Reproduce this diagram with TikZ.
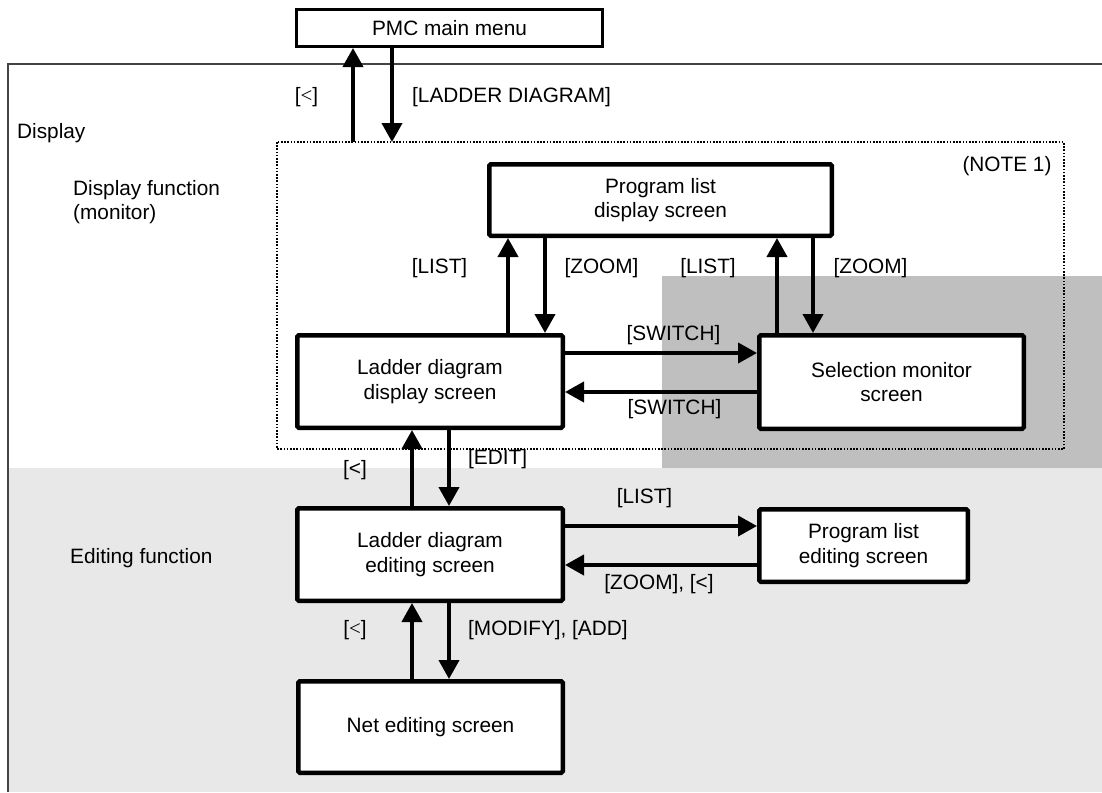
\documentclass[tikz,border=0pt]{standalone}
\usepackage{fontspec}
\setmainfont{Liberation Sans}
\newfontfamily\ltfont{Liberation Serif}
\usetikzlibrary{arrows.meta}
\newcommand{\thinless}{{\ltfont <}}
\definecolor{editbg}{HTML}{E8E8E8}
\definecolor{selbg}{HTML}{BFBFBF}
\definecolor{framecol}{HTML}{444444}

\begin{document}
\begin{tikzpicture}[x=1pt,y=-1pt,
  every node/.style={font=\fontsize{20.8}{24.5}\selectfont, inner sep=0pt},
  screen/.style={draw, line width=4.5pt, fill=white, rounded corners=1.5pt, align=center},
  menu/.style={draw, line width=3pt, fill=white},
  arr/.style={line width=4pt, -{Triangle[width=20pt,length=19pt]}},
  lbl/.style={anchor=center},
  side/.style={anchor=west, align=left}
]
\useasboundingbox (0,0) rectangle (1102,792);

% shaded areas: editing function and selection monitor
\fill[editbg] (8,468) rectangle (1102,792);
\fill[selbg] (662,276) rectangle (1102,468);

% outer frame of the display area
\draw[line width=2pt, framecol] (1102,64) -- (8,64) -- (8,792);

% monitor area (NOTE 1)
\draw[line width=2pt, dash pattern=on 1.6pt off 1.6pt] (277,142) rectangle (1064,449);

% screens
\node[menu, minimum width=306pt, minimum height=37pt] (pmc) at (449.5,28) {PMC main menu};
\node[screen, minimum width=342.5pt, minimum height=71.5pt] (pld) at (660.5,200) {Program list\\display screen};
\node[screen, minimum width=265.5pt, minimum height=92.5pt] (ldd) at (430,381.5) {Ladder diagram\\display screen};
\node[screen, minimum width=264.5pt, minimum height=93.5pt] (sel) at (891.5,382) {Selection monitor\\screen};
\node[screen, minimum width=265.5pt, minimum height=92.5pt] (lde) at (430,554.5) {Ladder diagram\\editing screen};
\node[screen, minimum width=208.5pt, minimum height=72.5pt] (ple) at (863.5,545.5) {Program list\\editing screen};
\node[screen, minimum width=264.5pt, minimum height=91.5pt] (net) at (430.5,727) {Net editing screen};

% lanes for the connectors
\coordinate (dt1) at (353,142);
\coordinate (dt2) at (392,142);
\coordinate (l1) at (508,0);
\coordinate (l2) at (545,0);
\coordinate (l3) at (777,0);
\coordinate (l4) at (813,0);
\coordinate (l5) at (412,0);
\coordinate (l6) at (449,0);
\coordinate (h1) at (0,353);
\coordinate (h2) at (0,392);
\coordinate (h3) at (0,526);
\coordinate (h4) at (0,565);

% connectors
\draw[arr] (dt1) -- (pmc.south -| dt1);
\draw[arr] (pmc.south -| dt2) -- (dt2);
\draw[arr] (ldd.north -| l1) -- (pld.south -| l1);
\draw[arr] (pld.south -| l2) -- (ldd.north -| l2);
\draw[arr] (sel.north -| l3) -- (pld.south -| l3);
\draw[arr] (pld.south -| l4) -- (sel.north -| l4);
\draw[arr] (ldd.east |- h1) -- (sel.west |- h1);
\draw[arr] (sel.west |- h2) -- (ldd.east |- h2);
\draw[arr] (lde.north -| l5) -- (ldd.south -| l5);
\draw[arr] (ldd.south -| l6) -- (lde.north -| l6);
\draw[arr] (lde.east |- h3) -- (ple.west |- h3);
\draw[arr] (ple.west |- h4) -- (lde.east |- h4);
\draw[arr] (net.north -| l5) -- (lde.south -| l5);
\draw[arr] (lde.south -| l6) -- (net.north -| l6);

% key labels
\node[lbl] (kback1) at (306.5,97) {[\thinless]};
\node[side] (kladder) at (412,97) {[LADDER DIAGRAM]};
\node[lbl] (klist1) at (439.5,268) {[LIST]};
\node[lbl] (kzoom1) at (601.5,268) {[ZOOM]};
\node[lbl] (klist2) at (708,268) {[LIST]};
\node[lbl] (kzoom2) at (870.5,268) {[ZOOM]};
\node[lbl] (ksw1) at (673.5,335) {[SWITCH]};
\node[lbl] (ksw2) at (674.5,409) {[SWITCH]};
\node[lbl] (kback2) at (355,470) {[<]};
\node[side] (kedit) at (468,459) {[EDIT]};
\node[lbl] (klist3) at (644.5,498) {[LIST]};
\node[lbl] (kzoom3) at (659,584) {[ZOOM], [<]};
\node[lbl] (kback3) at (355,630) {[\thinless]};
\node[side] (kmod) at (468,630) {[MODIFY], [ADD]};
\node[lbl] (note) at (1007,166) {(NOTE 1)};

% area titles
\node[side] (tdisp) at (17,133) {Display};
\node[side] (tmon) at (73,202) {Display function\\(monitor)};
\node[side] (tedit) at (70,558) {Editing function};
\end{tikzpicture}
\end{document}
